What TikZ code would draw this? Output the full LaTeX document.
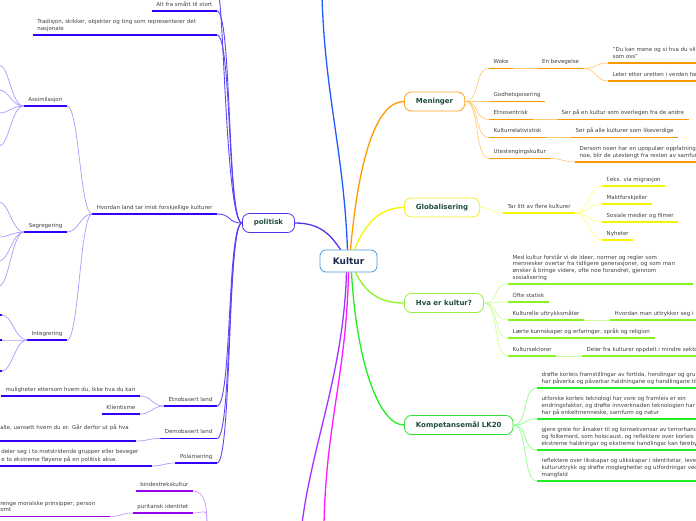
\documentclass[tikz,border=0pt]{standalone}
\usepackage{fontspec}
\setmainfont{DejaVu Sans}
\usetikzlibrary{positioning}
\definecolor{kulturblaa}{HTML}{4A9AD8}
\definecolor{hubtekst}{HTML}{1A2B4C}
\definecolor{topictekst}{HTML}{1E4D3C}
\definecolor{leaftekst}{HTML}{404040}
\definecolor{blaagren}{HTML}{1E5BFF}
\definecolor{menkant}{HTML}{FFA020}
\definecolor{menstrek}{HTML}{FF9900}
\definecolor{menlys}{HTML}{FFC97A}
\definecolor{globkant}{HTML}{F0F020}
\definecolor{globstrek}{HTML}{F5F500}
\definecolor{globlys}{HTML}{FFFF80}
\definecolor{hvakant}{HTML}{99EE44}
\definecolor{hvastrek}{HTML}{88F522}
\definecolor{hvalys}{HTML}{CCFF99}
\definecolor{kompkant}{HTML}{33DD33}
\definecolor{kompstrek}{HTML}{22EE22}
\definecolor{komplys}{HTML}{8CFF8C}
\definecolor{polkant}{HTML}{5533EE}
\definecolor{polstrek}{HTML}{3300FF}
\definecolor{polmid}{HTML}{5A48F5}
\definecolor{pollys}{HTML}{A69CFF}
\definecolor{lillagren}{HTML}{A033FF}
\definecolor{lillastrek}{HTML}{9900EE}
\definecolor{lillalys}{HTML}{CC99FF}
\definecolor{rosagren}{HTML}{FF1AFF}

\begin{document}
\begin{tikzpicture}[x=1pt, y=-1pt,
	hub/.style={draw=kulturblaa, rounded corners=6pt, line width=0.8pt, fill=white, minimum width=57pt, minimum height=22pt, font=\fontsize{9}{10}\selectfont\bfseries, text=hubtekst},
	topic/.style={draw=#1, rounded corners=7pt, line width=0.8pt, fill=white, minimum height=19pt, inner xsep=11.5pt, font=\fontsize{7}{8}\selectfont\bfseries, text=topictekst, anchor=west},
	leaf/.style={font=\fontsize{5.5}{6.8}\selectfont, text=leaftekst, inner xsep=4.5pt, inner ysep=2.3pt, anchor=south west,
		execute at begin node=\strut, execute at end node=\strut,
		append after command={(\tikzlastnode.south west) edge[draw=#1, line width=1.3pt] (\tikzlastnode.south east)}},
	lleaf/.style={leaf=#1, anchor=south east},
	stamme/.style={draw=#1, line width=1.3pt},
	gren/.style={draw=#1, line width=0.7pt}]
\useasboundingbox (0,0) rectangle (696,520);
\clip (0,0) rectangle (696,520);

\node[hub] (kultur) at (348.5,261) {Kultur};

\node[topic=menkant] (men) at (404,101.5) {Meninger};
\node[leaf=menstrek] (woke) at (489,68.5) {Woke};
\node[leaf=menstrek] (bev) at (537.5,68.5) {En bevegelse};
\node[leaf=menstrek, align=left] (duk) at (608,63) {"Du kan mene og si hva du vil\\som oss"};
\node[leaf=menstrek] (leter) at (608,81) {Leter etter uretten i verden for};
\node[leaf=menstrek] (godhet) at (489,101.5) {Godhetsposering};
\node[leaf=menstrek] (etno) at (489,119.5) {Etnosentrisk};
\node[leaf=menstrek] (etnoa) at (557,119.5) {Ser på en kultur som overlegen fra de andre};
\node[leaf=menstrek] (krel) at (489,137.5) {Kulturrelativistisk};
\node[leaf=menstrek] (krela) at (571,137.5) {Ser på alle kulturer som likeverdige};
\node[leaf=menstrek] (utest) at (489,158.5) {Utestengingskultur};
\node[leaf=menstrek, align=left] (utesta) at (575,162) {Dersom noen har en upopulær oppfatning\\noe, blir de utestengt fra resten av samfunnet};

\node[topic=globkant] (glob) at (404,207.5) {Globalisering};
\node[leaf=globstrek] (tar) at (503,213) {Tar litt av flere kulturer};
\node[leaf=globstrek] (feks) at (602,186) {f.eks. via migrasjon};
\node[leaf=globstrek] (makt) at (602,204) {Maktforskjeller};
\node[leaf=globstrek] (sos) at (602,222) {Sosiale medier og filmer};
\node[leaf=globstrek] (nyh) at (602,240) {Nyheter};

\node[topic=hvakant] (hva) at (404,303) {Hva er kultur?};
\node[leaf=hvastrek, align=left, text width=176pt] (def) at (508,284) {Med kultur forstår vi de ideer, normer og regler som\\mennesker overtar fra tidligere generasjoner, og som man\\ønsker å bringe videre, ofte noe forandret, gjennom\\sosialisering};
\node[leaf=hvastrek] (statisk) at (508,302) {Ofte statisk};
\node[leaf=hvastrek] (uttr) at (508,320) {Kulturelle uttrykksmåter};
\node[leaf=hvastrek] (uttra) at (610,320) {Hvordan man uttrykker seg i};
\node[leaf=hvastrek] (laerte) at (508,338) {Lærte kunnskaper og erfaringer, språk og religion};
\node[leaf=hvastrek] (sekt) at (508,356) {Kultursektorer};
\node[leaf=hvastrek] (sekta) at (582,356) {Deler fra kulturer oppdelt i mindre sektorer};

\node[topic=kompkant] (komp) at (404,425) {Kompetansemål LK20};
\node[leaf=kompstrek, align=left] (k1) at (537,388) {drøfte korleis framstillingar av fortida, hendingar og grupper\\har påverka og påverkar haldningane og handlingane til};
\node[leaf=kompstrek, align=left] (k2) at (537,419) {utforske korleis teknologi har vore og framleis er ein\\endringsfaktor, og drøfte innverknaden teknologien har\\har på enkeltmenneske, samfunn og natur};
\node[leaf=kompstrek, align=left] (k3) at (537,450) {gjere greie for årsaker til og konsekvensar av terrorhandlingar\\og folkemord, som holocaust, og reflektere over korleis\\ekstreme haldningar og ekstreme handlingar kan førebyggjast};
\node[leaf=kompstrek, align=left] (k4) at (537,481) {reflektere over likskapar og ulikskapar i identitetar, levesett\\kulturuttrykk og drøfte moglegheiter og utfordringar ved\\mangfald};

\node[topic=polkant] (pol) at (242,223) {politisk};
\node[lleaf=polstrek] (alt) at (217,11) {Alt fra smått til stort};
\node[lleaf=polstrek, align=left, text width=175pt] (trad) at (217,35) {Tradisjon, skikker, objekter og ting som representerer det\\nasjonale};
\node[lleaf=polstrek] (hvordan) at (217,214) {Hvordan land tar imot forskjellige kulturer};
\node[lleaf=polstrek] (etnob) at (217,406) {Etnobasert land};
\node[lleaf=polstrek] (demob) at (217,438.5) {Demobasert land};
\node[lleaf=polstrek] (polar) at (217,463) {Polarisering};
\node[lleaf=polstrek] (assim) at (67,106) {Assimilasjon};
\node[lleaf=polstrek] (segr) at (67,232) {Segregering};
\node[lleaf=polstrek] (integ) at (67,340) {Integrering};
\node[lleaf=polstrek] (mul) at (140,396) {muligheter ettersom hvem du, ikke hva du kan};
\node[lleaf=polstrek] (klient) at (140,414) {Klientisme};
\node[lleaf=polstrek, align=left, text width=131pt] (dem1) at (136,441) {alle, uansett hvem du er. Går derfor ut på hva\\};
\node[lleaf=polstrek, align=left, text width=146pt] (pol1) at (152,466) {deler seg i to motstridende grupper eller beveger\\e to ekstreme fløyene på en politisk akse.};

\node[lleaf=lillastrek] (bind) at (193,491) {bindestrekskultur};
\node[lleaf=lillastrek] (purit) at (193,513) {puritansk identitet};
\node[lleaf=lillastrek, align=left, text width=105pt] (pur1) at (110,516.5) {renge moralske prinsipper; person\\omt};

\coordinate (blaaend) at (322,-4);
\coordinate (lillaend) at (302,524);
\coordinate (rosaend) at (324,524);
\coordinate (polup) at (219,-4);
\coordinate (idrot) at (207,526);

\draw[stamme=blaagren] ([xshift=-1pt]kultur.north) .. controls +(-4,-100) and +(3,100) .. (blaaend);
\draw[stamme=menstrek] ([xshift=2pt]kultur.north) .. controls +(8,-90) and +(-28,0) .. (men.west);
\draw[stamme=globstrek] ([xshift=6pt]kultur.north) .. controls +(10,-25) and +(-25,0) .. (glob.west);
\draw[stamme=polkant] ([xshift=-8pt]kultur.north) .. controls +(-10,-15) and +(25,0) .. (pol.east);
\draw[stamme=hvastrek] ([xshift=7pt]kultur.south) .. controls +(10,20) and +(-25,0) .. (hva.west);
\draw[stamme=kompstrek] ([xshift=3pt]kultur.south) .. controls +(5,90) and +(-25,0) .. (komp.west);
\draw[stamme=lillagren] ([xshift=-2pt]kultur.south) .. controls +(-3,100) and +(10,-80) .. (lillaend);
\draw[stamme=rosagren] ([xshift=0pt]kultur.south) .. controls +(-2,100) and +(2,-100) .. (rosaend);

\foreach \b in {woke,godhet,etno,krel,utest}
	\draw[gren=menlys] (men.east) .. controls +(15,0) and +(-15,0) .. (\b.south west);
\draw[gren=menlys] (woke.south east) -- (bev.south west);
\foreach \b in {duk,leter}
	\draw[gren=menlys] (bev.south east) .. controls +(12,0) and +(-12,0) .. (\b.south west);
\draw[gren=menlys] (etno.south east) -- (etnoa.south west);
\draw[gren=menlys] (krel.south east) -- (krela.south west);
\draw[gren=menlys] (utest.south east) .. controls +(12,0) and +(-12,0) .. (utesta.south west);

\draw[gren=globlys] (glob.east) .. controls +(12,0) and +(-12,0) .. (tar.south west);
\foreach \b in {feks,makt,sos,nyh}
	\draw[gren=globlys] (tar.south east) .. controls +(12,0) and +(-12,0) .. (\b.south west);

\foreach \b in {def,statisk,uttr,laerte,sekt}
	\draw[gren=hvalys] (hva.east) .. controls +(15,0) and +(-15,0) .. (\b.south west);
\draw[gren=hvalys] (uttr.south east) -- (uttra.south west);
\draw[gren=hvalys] (sekt.south east) -- (sekta.south west);

\foreach \b in {k1,k2,k3,k4}
	\draw[gren=komplys] (komp.east) .. controls +(15,0) and +(-15,0) .. (\b.south west);

\draw[gren=polmid, line width=0.9pt] (pol.west) .. controls +(-15,0) and +(5,30) .. (polup);
\foreach \b in {alt,trad,hvordan,etnob,demob,polar}
	\draw[gren=polmid, line width=0.9pt] (pol.west) .. controls +(-15,0) and +(15,0) .. (\b.south east);
\foreach \b in {assim,segr,integ}
	\draw[gren=pollys] (hvordan.south west) .. controls +(-12,0) and +(12,0) .. (\b.south east);
\foreach \y [count=\i] in {65,90,113,146} {
	\coordinate (as\i) at (-1,\y);
	\draw[gren=pollys] (assim.south west) .. controls +(-12,0) and +(10,0) .. (as\i);}
\foreach \y [count=\i] in {202,237,261,286} {
	\coordinate (se\i) at (-1,\y);
	\draw[gren=pollys] (segr.south west) .. controls +(-12,0) and +(10,0) .. (se\i);}
\foreach \y [count=\i] in {315,340,371} {
	\coordinate (in\i) at (2,\y);
	\draw[gren=pollys] (integ.south west) .. controls +(-12,0) and +(10,0) .. (in\i);
	\draw[polstrek, line width=1.3pt] (in\i) -- ++(-6,0);}
\foreach \b in {mul,klient}
	\draw[gren=pollys] (etnob.south west) .. controls +(-12,0) and +(12,0) .. (\b.south east);
\draw[gren=pollys] (demob.south west) .. controls +(-12,0) and +(12,0) .. (dem1.south east);
\draw[gren=pollys] (polar.south west) .. controls +(-12,0) and +(12,0) .. (pol1.south east);

\foreach \b in {bind,purit}
	\draw[gren=lillalys] (idrot) .. controls +(0,-20) and +(12,0) .. (\b.south east);
\draw[gren=lillalys] (purit.south west) .. controls +(-12,0) and +(12,0) .. (pur1.south east);
\end{tikzpicture}
\end{document}
